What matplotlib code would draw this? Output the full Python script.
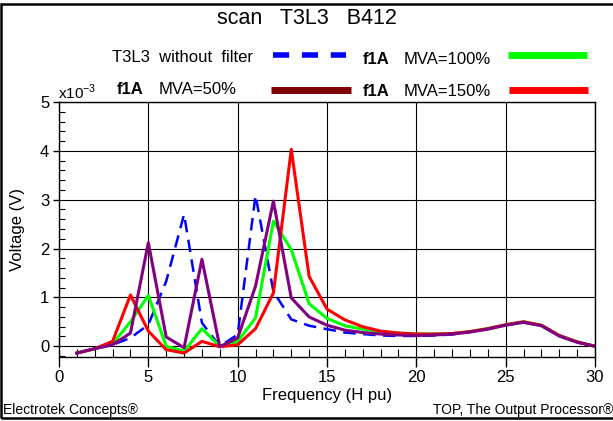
import numpy as np
import matplotlib.pyplot as plt
from matplotlib.lines import Line2D
from matplotlib.patches import Rectangle
from matplotlib.ticker import MultipleLocator

plt.rcParams['font.family'] = ['Liberation Sans', 'DejaVu Sans']

# harmonic order 1..30, voltage in 1e-3 V
harm = np.arange(1, 31)
no_filter = [-0.14, -0.05, 0.03, 0.17, 0.44, 1.33, 2.70, 0.48, 0.00, 0.24,
             3.09, 1.12, 0.55, 0.42, 0.35, 0.28, 0.25, 0.22, 0.21, 0.21,
             0.22, 0.24, 0.29, 0.35, 0.43, 0.49, 0.42, 0.21, 0.08, 0.00]
mva50 = [-0.14, -0.05, 0.03, 0.27, 2.12, 0.19, -0.03, 1.78, -0.01, 0.17,
         1.23, 2.97, 0.99, 0.60, 0.43, 0.33, 0.28, 0.25, 0.23, 0.22,
         0.23, 0.25, 0.29, 0.35, 0.43, 0.49, 0.42, 0.21, 0.08, 0.00]
mva100 = [-0.14, -0.05, 0.05, 0.50, 1.04, 0.00, -0.10, 0.36, 0.00, 0.10,
          0.58, 2.56, 1.98, 0.87, 0.57, 0.42, 0.35, 0.30, 0.27, 0.25,
          0.25, 0.26, 0.30, 0.36, 0.44, 0.50, 0.43, 0.22, 0.09, 0.00]
mva150 = [-0.14, -0.05, 0.10, 1.05, 0.31, -0.07, -0.14, 0.10, -0.01, 0.03,
          0.36, 1.09, 4.03, 1.43, 0.76, 0.54, 0.40, 0.31, 0.27, 0.25,
          0.25, 0.26, 0.30, 0.36, 0.44, 0.50, 0.43, 0.22, 0.09, 0.00]

W, H = 613, 421
fig = plt.figure(figsize=(W / 100, H / 100), dpi=100)
ax = fig.add_axes([59/W, (H - 356.5)/H, 536/W, 254.5/H])

ax.plot(harm, no_filter, color='#0000ff', lw=1.8, dashes=(5, 3))
ax.plot(harm, mva100, color='#00ff00', lw=2.2)
ax.plot(harm, mva150, color='#ff0000', lw=2.2)
ax.plot(harm, mva50, color='#800080', lw=2.2)

ax.set_xlim(0, 30)
ax.set_ylim(-0.21, 5)
ax.xaxis.set_major_locator(MultipleLocator(5))
ax.xaxis.set_minor_locator(MultipleLocator(1))
ax.yaxis.set_major_locator(MultipleLocator(1))
ax.yaxis.set_minor_locator(MultipleLocator(0.2))
ax.tick_params(which='major', direction='out', width=1, labelsize=12)
ax.tick_params(axis='x', which='major', length=7, pad=3)
ax.tick_params(axis='y', which='major', length=4, pad=3)
ax.tick_params(axis='x', which='minor', direction='in', length=6, width=0.8)
ax.tick_params(axis='y', which='minor', direction='in', length=4, width=0.8)
ax.grid(which='major', color='black', lw=0.8)
for s in ax.spines.values():
    s.set_linewidth(1)

ax.set_xlabel('Frequency (H pu)', fontsize=12, labelpad=2)
ax.set_ylabel('Voltage (V)', fontsize=12, labelpad=11)
fig.text(58/W, 1 - 92/H, r'x10$^{\mathregular{-3}}$', fontsize=11, va='center')

fig.text(217/W, 1 - 18/H, 'scan   T3L3   B412', fontsize=15.5, va='center')

# legend, drawn by hand like the original
def seg(x0, x1, y, **kw):
    fig.add_artist(Line2D([x0/W, x1/W], [1 - y/H, 1 - y/H], **kw))

fig.text(253/W, 1 - 57/H, 'T3L3  without  filter', fontsize=12, ha='right', va='center')
seg(273, 346, 55, color='#0000ff', lw=4, dashes=(2.9, 2.3))
fig.text(363/W, 1 - 59/H, 'f1A', fontsize=12, weight='bold', va='center')
fig.text(404/W, 1 - 59/H, 'MVA=100%', fontsize=12, va='center')
seg(508, 587, 55, color='#00ff00', lw=5, solid_capstyle='butt')

fig.text(117/W, 1 - 89/H, 'f1A', fontsize=12, weight='bold', va='center')
fig.text(159/W, 1 - 89/H, 'MVA=50%', fontsize=12, va='center')
seg(271, 351, 90, color='#800000', lw=5, solid_capstyle='butt')
fig.text(363/W, 1 - 92/H, 'f1A', fontsize=12, weight='bold', va='center')
fig.text(404/W, 1 - 92/H, 'MVA=150%', fontsize=12, va='center')
seg(509, 588, 90, color='#ff0000', lw=5, solid_capstyle='butt')

fig.text(3/W, 1 - 410/H, 'Electrotek Concepts®', fontsize=10, va='center')
fig.text(433/W, 1 - 410/H, 'TOP, The Output Processor®', fontsize=10, va='center')

# page frame; its right edge falls just outside the image
fig.add_artist(Rectangle((1.5/W, 3/H), 620/W, 414/H, transform=fig.transFigure,
                         fill=False, edgecolor='black', lw=1.8, clip_on=False))

fig.savefig('out.png', dpi=100)
